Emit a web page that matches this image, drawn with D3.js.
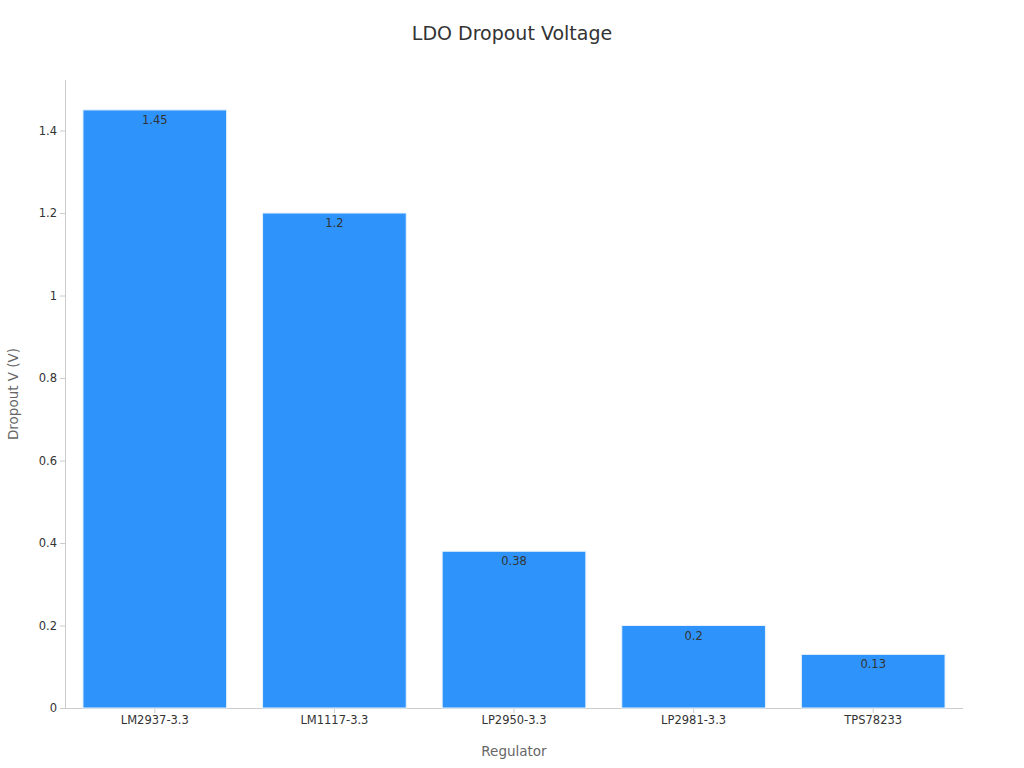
<!DOCTYPE html>
<html><head><meta charset="utf-8">
<script src="https://cdn.jsdelivr.net/npm/d3@7"></script>
<style>body{margin:0;background:#fff;font-family:"DejaVu Sans",sans-serif}</style>
</head><body>
<svg id="c" width="1024" height="768"></svg>
<script>
const categories=["LM2937-3.3","LM1117-3.3","LP2950-3.3","LP2981-3.3","TPS78233"];
const values=[1.45,1.2,0.38,0.2,0.13];
const labels=["1.45","1.2","0.38","0.2","0.13"];
const yTicks=[0,0.2,0.4,0.6,0.8,1,1.2,1.4];

const svg=d3.select("#c");
const m={l:65,r:963,t:80,b:708};
const x=d3.scaleBand().domain(categories).range([m.l,m.r]).paddingInner(0.2).paddingOuter(0.1);
const y=d3.scaleLinear().domain([0,1.5225]).range([m.b,m.t]);

svg.append("text").attr("x",512).attr("y",40).attr("text-anchor","middle")
 .attr("font-size",19).attr("fill","#333").text("LDO Dropout Voltage");

const ya=svg.append("g").attr("transform",`translate(${m.l},0)`)
 .call(d3.axisLeft(y).tickValues(yTicks).tickSize(5).tickFormat(d=>String(d)));
const xa=svg.append("g").attr("transform",`translate(0,${m.b})`)
 .call(d3.axisBottom(x).tickSize(5));
[ya,xa].forEach(a=>{a.selectAll("path,line").attr("stroke","#ccc");
 a.selectAll("text").attr("fill","#333").attr("font-size",11.5).attr("font-family","DejaVu Sans");});
xa.select("path").attr("d",`M${m.l},0.5H${m.r}`);
ya.select("path").attr("d",`M0.5,${m.t}V${m.b}`);

svg.selectAll("rect.bar").data(values).join("rect")
 .attr("x",(d,i)=>x(categories[i])).attr("width",x.bandwidth())
 .attr("y",d=>y(d)).attr("height",d=>y(0)-y(d))
 .attr("fill","#2E93FA").attr("stroke","#e8f2fe").attr("stroke-width",1);

svg.selectAll("text.lbl").data(values).join("text")
 .attr("x",(d,i)=>x(categories[i])+x.bandwidth()/2).attr("y",d=>y(d)+14)
 .attr("text-anchor","middle").attr("font-size",11.5).attr("fill","#333")
 .text((d,i)=>labels[i]);

svg.append("text").attr("x",514).attr("y",756).attr("text-anchor","middle")
 .attr("font-size",13.5).attr("fill","#666").text("Regulator");
svg.append("text").attr("transform","translate(18,394) rotate(-90)").attr("text-anchor","middle")
 .attr("font-size",13.5).attr("fill","#666").text("Dropout V (V)");
</script></body></html>
